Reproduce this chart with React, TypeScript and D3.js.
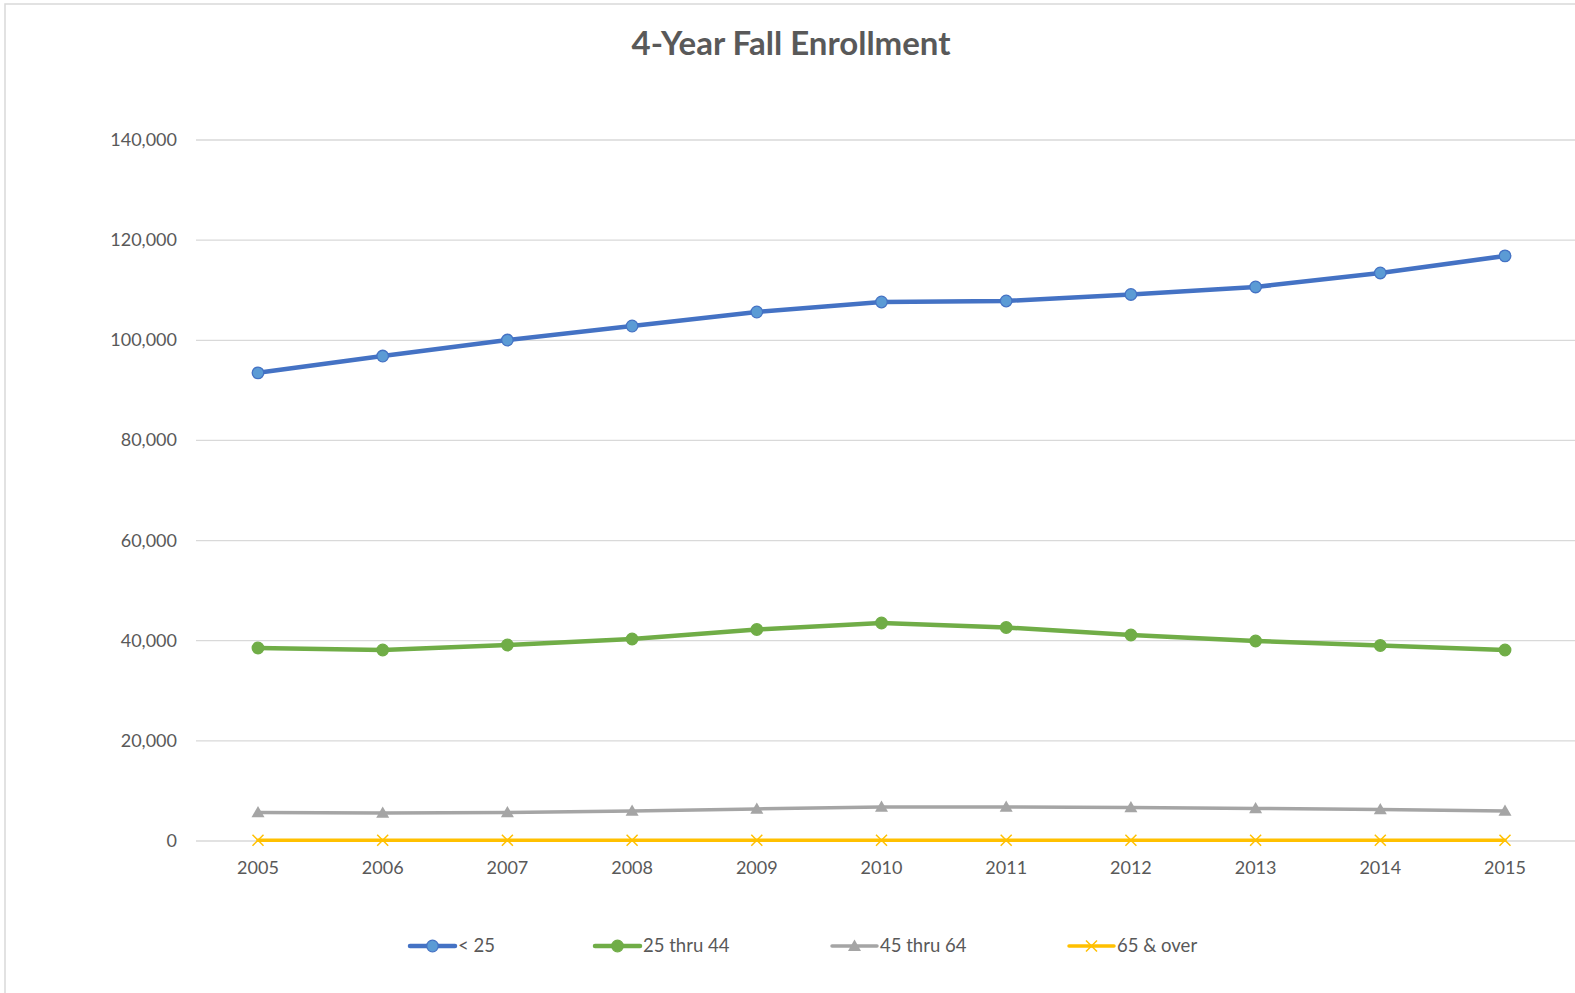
import React from 'react';
import * as d3 from 'd3';

const years = ['2005', '2006', '2007', '2008', '2009', '2010', '2011', '2012', '2013', '2014', '2015'];
const under25 = [93500, 96850, 100050, 102850, 105650, 107650, 107850, 109150, 110650, 113450, 116850];
const from25to44 = [38550, 38150, 39150, 40350, 42250, 43550, 42650, 41150, 39950, 39050, 38150];
const from45to64 = [5700, 5600, 5700, 6000, 6400, 6800, 6800, 6700, 6500, 6300, 6000];
const over65 = [150, 150, 150, 150, 150, 160, 160, 160, 150, 150, 150];
const yTicks = [0, 20000, 40000, 60000, 80000, 100000, 120000, 140000];

type Marker = 'circle' | 'triangle' | 'x';

interface Series {
  name: string;
  values: number[];
  stroke: string;
  fill: string;
  markerStroke: string;
  marker: Marker;
  width: number;
}

const series: Series[] = [
  { name: '< 25', values: under25, stroke: '#4472C4', fill: '#5B9BD5', markerStroke: '#4472C4', marker: 'circle', width: 4.5 },
  { name: '25 thru 44', values: from25to44, stroke: '#70AD47', fill: '#70AD47', markerStroke: '#70AD47', marker: 'circle', width: 4.5 },
  { name: '45 thru 64', values: from45to64, stroke: '#A5A5A5', fill: '#A5A5A5', markerStroke: '#A5A5A5', marker: 'triangle', width: 3.5 },
  { name: '65 & over', values: over65, stroke: '#FFC000', fill: 'none', markerStroke: '#FFC000', marker: 'x', width: 3.5 },
];

const legendX = [410, 595, 832, 1069];

const W = 1575;
const H = 993;
const textColor = '#595959';
const font = 'Lato, "Open Sans", sans-serif';

function MarkerShape({ s, cx, cy }: { s: Series; cx: number; cy: number }) {
  if (s.marker === 'circle') {
    return <circle cx={cx} cy={cy} r={5.8} fill={s.fill} stroke={s.markerStroke} strokeWidth={1.3} />;
  }
  if (s.marker === 'triangle') {
    const r = 6.5;
    return (
      <path
        d={`M${cx},${cy - r} L${cx + r},${cy + r * 0.75} L${cx - r},${cy + r * 0.75} Z`}
        fill={s.fill}
      />
    );
  }
  const r = 5.5;
  return (
    <path
      d={`M${cx - r},${cy - r} L${cx + r},${cy + r} M${cx - r},${cy + r} L${cx + r},${cy - r}`}
      stroke={s.markerStroke}
      strokeWidth={1.5}
      fill="none"
    />
  );
}

export default function App() {
  const x = d3.scalePoint<string>().domain(years).range([258, 1505]);
  const y = d3.scaleLinear().domain([0, 140000]).range([841, 140]);
  const line = d3
    .line<number>()
    .x((_, i) => x(years[i]) as number)
    .y((d) => y(d));
  const fmt = d3.format(',');

  return (
    <svg
      width={W}
      height={H}
      style={{ position: 'absolute', left: 0, top: 0, background: '#fff' }}
    >
      <rect x={5} y={4} width={W + 10} height={H + 10} fill="#fff" stroke="#d9d9d9" strokeWidth={1.5} />

      <text x={791} y={55} textAnchor="middle" fontFamily={font} fontWeight="bold" fontSize={33} fill={textColor}>
        4-Year Fall Enrollment
      </text>

      {/* gridlines and y labels */}
      {yTicks.map((t) => (
        <g key={t}>
          <line x1={196} x2={W} y1={y(t)} y2={y(t)} stroke="#d9d9d9" strokeWidth={1.3} />
          <text x={177} y={y(t) + 6} textAnchor="end" fontFamily={font} fontSize={18} fill={textColor}>
            {fmt(t)}
          </text>
        </g>
      ))}

      {/* x labels */}
      {years.map((yr) => (
        <text key={yr} x={x(yr)} y={874} textAnchor="middle" fontFamily={font} fontSize={18} fill={textColor}>
          {yr}
        </text>
      ))}

      {/* series */}
      {series.map((s) => (
        <g key={s.name}>
          <path d={line(s.values) ?? ''} fill="none" stroke={s.stroke} strokeWidth={s.width} strokeLinejoin="round" strokeLinecap="round" />
          {s.values.map((v, i) => (
            <MarkerShape key={i} s={s} cx={x(years[i]) as number} cy={y(v)} />
          ))}
        </g>
      ))}

      {/* legend */}
      {series.map((s, i) => (
        <g key={s.name}>
          <line x1={legendX[i]} x2={legendX[i] + 45} y1={946} y2={946} stroke={s.stroke} strokeWidth={s.width} strokeLinecap="round" />
          <MarkerShape s={s} cx={legendX[i] + 22.5} cy={946} />
          <text x={legendX[i] + 48} y={952} fontFamily={font} fontSize={18.5} fill={textColor}>
            {s.name}
          </text>
        </g>
      ))}
    </svg>
  );
}
